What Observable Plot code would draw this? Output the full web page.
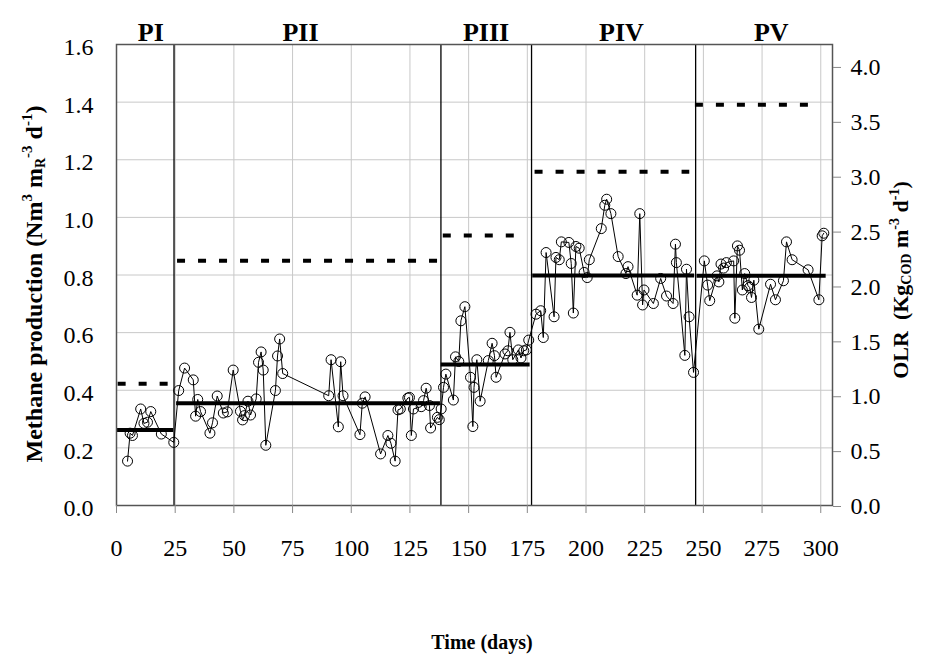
<!DOCTYPE html>
<html><head><meta charset="utf-8">
<script src="https://cdn.jsdelivr.net/npm/d3@7"></script>
<script src="https://cdn.jsdelivr.net/npm/@observablehq/plot@0.6"></script>
<style>body{margin:0;background:#fff}</style>
</head><body><div id="chart"></div>
<script>
// Daily methane production (Nm3 mR-3 d-1)
const days = [
  4.7, 5.8, 6.8, 10.3, 11.7, 13.2, 14.6, 19.1, 24.4,
  26.5, 29.0, 32.7, 33.7, 34.6, 35.8, 39.8, 40.9, 42.9, 45.5, 47.2, 49.7, 52.8, 53.7, 54.5, 56.0, 57.1,
  59.5, 60.5, 61.6, 62.5, 63.6, 67.7, 68.6, 69.5, 70.8, 90.4, 91.4, 94.5, 95.5, 96.5, 103.7, 104.7, 105.9,
  112.5, 115.6, 116.9, 118.7, 119.9, 120.9, 124.1, 124.8, 125.6, 126.5, 129.8, 130.8, 131.9, 133.3, 133.8,
  136.7, 137.5,
  138.3, 139.3, 140.3, 143.5, 144.4, 145.8, 146.7, 148.4, 150.8, 151.8, 152.3, 153.5, 154.9, 158.4, 160.0,
  161.0, 161.7, 165.5, 166.7, 167.6, 168.8, 171.2, 172.3, 173.5, 174.6, 175.6,
  178.7, 180.7, 181.8, 183.0, 186.4, 187.2, 188.6, 189.5, 192.7, 193.7, 194.6, 195.7, 197.1, 199.2, 200.5,
  201.4, 206.5, 208.0, 208.8, 210.6, 213.7, 217.0, 217.9, 221.8, 222.9, 224.1, 224.7, 228.7, 231.8, 234.3,
  237.1, 238.1, 238.5, 242.1, 242.8, 243.9, 245.8,
  250.4, 251.8, 252.7, 255.8, 256.6, 257.5, 258.6, 259.8, 262.9, 263.4, 264.5, 265.4, 266.6, 267.6, 269.0,
  269.7, 270.5, 271.5, 273.6, 278.6, 280.7, 284.1, 285.4, 287.8, 294.6, 299.2, 300.6, 301.3
];
const methane = [
  0.154, 0.251, 0.243, 0.335, 0.285, 0.289, 0.326, 0.248, 0.219,
  0.399, 0.477, 0.436, 0.310, 0.368, 0.326, 0.251, 0.287, 0.380, 0.321, 0.325, 0.470, 0.327, 0.297, 0.312, 0.362, 0.314,
  0.370, 0.497, 0.533, 0.470, 0.209, 0.399, 0.519, 0.578, 0.458, 0.381, 0.506, 0.273, 0.499, 0.381, 0.246, 0.355, 0.377,
  0.179, 0.243, 0.216, 0.154, 0.332, 0.335, 0.373, 0.375, 0.243, 0.335, 0.343, 0.364, 0.407, 0.347, 0.269,
  0.306, 0.298,
  0.335, 0.410, 0.456, 0.366, 0.516, 0.500, 0.641, 0.690, 0.445, 0.274, 0.410, 0.506, 0.362, 0.503, 0.563,
  0.520, 0.445, 0.526, 0.537, 0.601, 0.506, 0.540, 0.512, 0.537, 0.540, 0.574,
  0.664, 0.676, 0.583, 0.878, 0.655, 0.861, 0.853, 0.915, 0.913, 0.840, 0.668, 0.899, 0.893, 0.809, 0.791,
  0.853, 0.961, 1.042, 1.063, 1.013, 0.864, 0.805, 0.829, 0.730, 1.013, 0.696, 0.748, 0.701, 0.788, 0.727,
  0.701, 0.907, 0.843, 0.521, 0.820, 0.655, 0.462,
  0.849, 0.765, 0.711, 0.797, 0.776, 0.838, 0.824, 0.843, 0.849, 0.650, 0.901, 0.886, 0.748, 0.805, 0.763,
  0.757, 0.722, 0.782, 0.612, 0.768, 0.714, 0.780, 0.915, 0.853, 0.818, 0.714, 0.936, 0.945
];

// Periods
const periodNames = ["PI", "PII", "PIII", "PIV", "PV"];
const periodLabelDay = [14.6, 78.4, 157.4, 215.1, 278.9];
const boundaries = [24.5, 138.2, 176.8, 246.7];
// Period mean methane production (solid bars)
const meanValue = [0.262, 0.355, 0.489, 0.798, 0.797];
const meanStart = [0.4, 25.6, 138.3, 177.3, 247.3];
const meanEnd = [24.4, 138.0, 176.2, 246.3, 302.3];
// Organic loading rate (dashed), Kg COD m-3 d-1
const olr = [1.11, 2.23, 2.46, 3.04, 3.65];
const olrStart = [0.7, 26.0, 139.2, 178.3, 246.6];
const olrEnd = [22.7, 137.0, 172.5, 244.2, 296.0];

// Axis ticks
const xTicks = [0, 25, 50, 75, 100, 125, 150, 175, 200, 225, 250, 275, 300];
const yTicks = [0, 0.2, 0.4, 0.6, 0.8, 1.0, 1.2, 1.4, 1.6];
const olrTicks = [0, 0.5, 1.0, 1.5, 2.0, 2.5, 3.0, 3.5, 4.0];
const olrMax = 4.2, yMax = 1.6;
const k = yMax / olrMax;

const idx = days.map((d, i) => i);
const pIdx = periodNames.map((d, i) => i);
const serif = '"Liberation Serif", "Times New Roman", serif';

const plot = Plot.plot({
  width: 927, height: 657,
  marginLeft: 116, marginRight: 95, marginTop: 44, marginBottom: 152,
  x: {domain: [0, 305]},
  y: {domain: [0, yMax]},
  style: {fontFamily: serif, fontSize: "23px", color: "#000", background: "#fff"},
  marks: [
    Plot.gridX(xTicks.slice(1), {stroke: "#c8c8c8", strokeOpacity: 1}),
    Plot.gridY(yTicks.slice(1, -1), {stroke: "#c8c8c8", strokeOpacity: 1}),
    Plot.ruleX(boundaries, {stroke: "#000", strokeWidth: 1.3}),
    Plot.ruleY(pIdx, {y: i => olr[i] * k, x1: i => olrStart[i], x2: i => olrEnd[i], stroke: "#000", strokeWidth: 4, strokeDasharray: "8,13"}),
    Plot.ruleY(pIdx, {y: i => meanValue[i], x1: i => meanStart[i], x2: i => meanEnd[i], stroke: "#000", strokeWidth: 4}),
    Plot.line(idx, {x: i => days[i], y: i => methane[i], stroke: "#000", strokeWidth: 1}),
    Plot.dot(idx, {x: i => days[i], y: i => methane[i], r: 5, stroke: "#000", fill: "none", strokeWidth: 1}),
    Plot.frame({stroke: "#555", strokeWidth: 1.5}),
    Plot.axisX(xTicks, {tickSize: 8, tickPadding: 25, stroke: "#888", fill: "#000", fontSize: 24, label: null}),
    Plot.axisY(yTicks, {anchor: "left", tickSize: 0, tickPadding: 23, dy: 3, fill: "#000", fontSize: 24, tickFormat: d => d.toFixed(1), label: null}),
    Plot.axisY(olrTicks.map(v => v * k), {anchor: "right", tickSize: 8, tickPadding: 10, dy: 1, stroke: "#888", fill: "#000", fontSize: 24, tickFormat: d => (d / k).toFixed(1), label: null}),
    Plot.text(pIdx, {x: i => periodLabelDay[i], frameAnchor: "top", dy: -22, text: i => periodNames[i], fontWeight: "bold", fontSize: 26, fill: "#000"})
  ]
});
document.getElementById("chart").appendChild(plot);

// Axis titles with super/subscripts
const svg = d3.select(plot);
function rich(x, y, rotate, size, parts) {
  const t = svg.append("text")
    .attr("transform", `translate(${x},${y})` + (rotate ? ` rotate(${rotate})` : ""))
    .attr("text-anchor", "middle")
    .attr("font-family", serif)
    .attr("font-weight", "bold")
    .attr("font-size", size)
    .attr("fill", "#000");
  let cur = 0;
  for (const [s, shift, sz] of parts) {
    const sp = t.append("tspan").text(s).attr("dy", shift - cur);
    if (sz) sp.attr("font-size", sz);
    cur = shift;
  }
  return t;
}
rich(42, 284, -90, 24, [
  ["Methane production (Nm", 0], ["3", -10, 15], [" m", 0], ["R", 3, 14], ["-3", -10, 15], [" d", 0], ["-1", -10, 15], [")", 0]
]);
rich(908, 280, -90, 22, [
  ["OLR  (Kg", 0], ["COD", 3, 14], [" m", 0], ["-3", -9, 14], [" d", 0], ["-1", -9, 14], [")", 0]
]);
rich(482, 649, 0, 20, [["Time (days)", 0]]);
</script>
</body></html>
